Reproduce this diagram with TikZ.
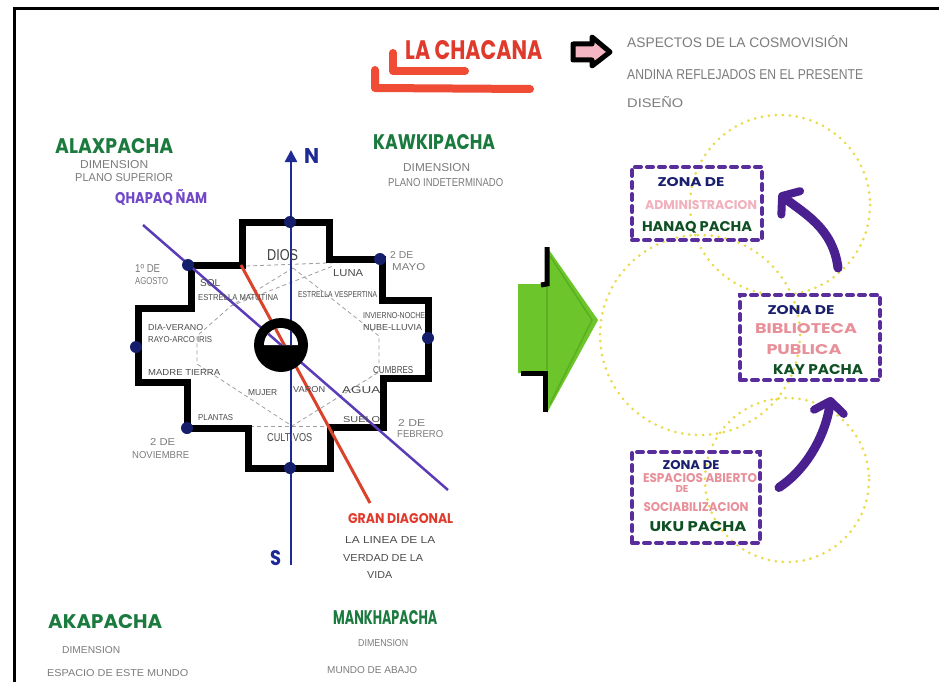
\documentclass[tikz,border=0pt]{standalone}
\usepackage{fontspec}
\usepackage{graphicx}
\usetikzlibrary{arrows.meta,calc}
\setmainfont{Liberation Sans}
\newfontfamily\marker{Poppins}
\newcommand{\fitt}[3]{\resizebox{#1bp}{#2bp}{#3}}
\definecolor{hgreen}{HTML}{1B7A3E}
\definecolor{boxgreen}{HTML}{0E4F24}
\definecolor{navyt}{HTML}{1A1F6E}
\definecolor{pinkt}{HTML}{E8909A}
\definecolor{pinkl}{HTML}{F2B0BD}
\definecolor{redt}{HTML}{E03A2C}
\definecolor{qpurple}{HTML}{7048C8}
\definecolor{axisblue}{HTML}{1E2A96}
\definecolor{diagpurple}{HTML}{5B3CB8}
\definecolor{diagred}{HTML}{D9432B}
\definecolor{grayt}{HTML}{7C7C7C}
\definecolor{boxpurple}{HTML}{5A2D9C}
\definecolor{arrowpurple}{HTML}{4A1F8F}
\definecolor{dotyellow}{HTML}{EADB4A}
\definecolor{arrgreen}{HTML}{6CC52A}
\definecolor{arrgreend}{HTML}{5AAE22}
\definecolor{pinkfill}{HTML}{F3B6C2}
\definecolor{dotnavy}{HTML}{141E6A}
\definecolor{underred}{HTML}{EF4B35}
\tikzset{
  lbl/.style={inner sep=0pt, anchor=west, text=grayt},
  lbld/.style={inner sep=0pt, anchor=west, text=black!70},
  hd/.style={inner sep=0pt, anchor=west, text=hgreen, font=\marker\bfseries},
  bx/.style={inner sep=0pt, font=\marker\bfseries},
  zbox/.style={draw=boxpurple, line width=4bp, dash pattern=on 6bp off 6bp, line cap=round, inner sep=0pt},
  ycirc/.style={dotyellow, line width=3bp, line cap=round, dash pattern=on 0bp off 7bp},
  parrow/.style={arrowpurple, line width=9bp, line cap=round, -{Straight Barb[length=11bp,width=30bp,line width=8bp,round]}},
  idash/.style={gray!75, line width=0.8bp, dash pattern=on 4bp off 3bp},
  bdot/.style={fill=dotnavy}
}
\begin{document}
\begin{tikzpicture}[x=1bp,y=-1bp]
\useasboundingbox (0,0) rectangle (939,682);
\fill[white] (0,0) rectangle (939,682);
% frame
\draw[line width=3bp] (14,682) -- (14,9) -- (939,9);

% title
\draw[underred, line width=8bp, line cap=round, line join=round] (393,53) -- (393,71) -- (465,71);
\draw[underred, line width=8bp, line cap=round, line join=round] (375,70) -- (375,88) -- (530,89);
\node[hd, text=redt] (title) at (405,50) {\fitt{137}{19}{LA CHACANA}};
\draw[line width=5bp, fill=pinkfill, line join=round] (573,44) -- (592,44) -- (592,37) -- (610,52) -- (592,66) -- (592,60) -- (573,60) -- cycle;
\node[lbl] (asp1) at (627,42) {\fitt{221}{12}{ASPECTOS DE LA COSMOVISIÓN}};
\node[lbl] (asp2) at (627,75) {\fitt{236}{10}{ANDINA REFLEJADOS EN EL PRESENTE}};
\node[lbl] (asp3) at (627,102) {\fitt{56}{11}{DISEÑO}};

% upper headings
\node[hd] (alax) at (55,146) {\fitt{118}{15}{ALAXPACHA}};
\node[lbl] (alax1) at (80,165) {\fitt{68}{8}{DIMENSION}};
\node[lbl] (alax2) at (75,178) {\fitt{98}{8}{PLANO SUPERIOR}};
\node[hd, text=qpurple] (qhapaq) at (115,197) {\fitt{92}{14}{QHAPAQ ÑAM}};
\node[hd] (kawk) at (373,142) {\fitt{122}{15}{KAWKIPACHA}};
\node[lbl] (kawk1) at (403,168) {\fitt{67}{8}{DIMENSION}};
\node[lbl] (kawk2) at (388,183) {\fitt{115}{8}{PLANO INDETERMINADO}};

% inner dashed lines
\draw[idash] (246,266) -- (382,261);
\draw[idash] (250,426) -- (383,426);
\draw[idash] (293,268) -- (379,336) -- (379,372) -- (292,426) -- (197,364) -- (197,336) -- (231,306) -- (333,266);
\draw[idash] (293,268) -- (231,306);

% chakana outline
\draw[line width=7bp, line join=miter] (242,222) -- (329,222) -- (329,259) -- (382,259) -- (382,300) -- (428,300) -- (428,378) -- (383,378) -- (383,427) -- (330,427) -- (330,468) -- (248,468) -- (248,428) -- (187,428) -- (187,382) -- (138,382) -- (138,308) -- (191,308) -- (191,265) -- (242,265) -- cycle;

% axis and diagonals
\draw[axisblue, line width=2.5bp, -{Triangle[length=12bp,width=12bp]}] (291,565) -- (291,150);
\draw[diagred, line width=3bp] (241,265) -- (370,503);
\draw[diagpurple, line width=2.5bp] (143,225) -- (448,490);

% central ring
\fill[black] (281,345) circle[radius=27];
\fill[white] (264,345) arc[start angle=180, end angle=360, radius=17] -- cycle;
\begin{scope}
\clip (264,345) arc[start angle=180, end angle=360, radius=17] -- cycle;
\draw[axisblue, line width=2.5bp] (291,565) -- (291,150);
\draw[diagred, line width=3bp] (241,265) -- (370,503);
\draw[diagpurple, line width=2.5bp] (143,225) -- (448,490);
\end{scope}

% dots
\fill[bdot] (290,222) circle[radius=6];
\fill[bdot] (380,259) circle[radius=6];
\fill[bdot] (428,338) circle[radius=6];
\fill[bdot] (290,468) circle[radius=6];
\fill[bdot] (187,428) circle[radius=6];
\fill[bdot] (136,347) circle[radius=6];
\fill[bdot] (188,265) circle[radius=6];

\node[inner sep=0pt, text=axisblue, font=\marker\bfseries, anchor=west] (north) at (304,156) {\fitt{15}{15}{N}};
\node[inner sep=0pt, text=axisblue, font=\marker\bfseries, anchor=west] (south) at (270,558) {\fitt{11}{15}{S}};

% outside dates
\node[lbl] (ago1) at (135,268) {\fitt{25}{8}{1º DE}};
\node[lbl] (ago2) at (135,281) {\fitt{33}{7}{AGOSTO}};
\node[lbl] (may1) at (390,255) {\fitt{23}{7}{2 DE}};
\node[lbl] (may2) at (392,267) {\fitt{33}{7}{MAYO}};
\node[lbl] (feb1) at (398,423) {\fitt{27}{7}{2 DE}};
\node[lbl] (feb2) at (397,434) {\fitt{46}{7}{FEBRERO}};
\node[lbl] (nov1) at (150,442) {\fitt{25}{7}{2 DE}};
\node[lbl] (nov2) at (132,455) {\fitt{57}{7}{NOVIEMBRE}};

% inner labels
\node[lbld, text=black!75] (dios) at (267,255) {\fitt{31}{11}{DIOS}};
\node[lbld] (luna) at (333,273) {\fitt{30}{7}{LUNA}};
\node[lbld] (sol) at (200,283) {\fitt{20}{7}{SOL}};
\node[lbld] (emat) at (198,298) {\fitt{80}{6}{ESTRELLA MATUTINA}};
\node[lbld] (eves) at (298,295) {\fitt{79}{6}{ESTRELLA VESPERTINA}};
\node[lbld] (inv) at (363,316) {\fitt{62}{6}{INVIERNO-NOCHE}};
\node[lbld] (nube) at (363,328) {\fitt{59}{6}{NUBE-LLUVIA}};
\node[lbld] (dia) at (148,328) {\fitt{55}{6}{DIA-VERANO}};
\node[lbld] (rayo) at (148,340) {\fitt{64}{6}{RAYO-ARCO IRIS}};
\node[lbld] (madre) at (148,372) {\fitt{72}{6}{MADRE TIERRA}};
\node[lbld] (cumb) at (373,370) {\fitt{40}{7}{CUMBRES}};
\node[lbld] (mujer) at (248,393) {\fitt{29}{6}{MUJER}};
\node[lbld] (varon) at (293,390) {\fitt{32}{6}{VARON}};
\node[lbld] (agua) at (342,390) {\fitt{38}{7}{AGUA}};
\node[lbld] (plant) at (198,418) {\fitt{35}{6}{PLANTAS}};
\node[lbld] (suelo) at (343,420) {\fitt{37}{6}{SUELO}};
\node[lbld] (cult) at (267,438) {\fitt{45}{8}{CULTIVOS}};

% gran diagonal
\node[hd, text=redt] (gran) at (348,519) {\fitt{105}{10}{GRAN DIAGONAL}};
\node[lbld] (gd1) at (345,540) {\fitt{90}{7}{LA LINEA DE LA}};
\node[lbld] (gd2) at (343,558) {\fitt{80}{7}{VERDAD DE LA}};
\node[lbld] (gd3) at (367,575) {\fitt{25}{7}{VIDA}};

% bottom headings
\node[hd] (aka) at (48,622) {\fitt{114}{14}{AKAPACHA}};
\node[lbl] (aka1) at (62,650) {\fitt{58}{7}{DIMENSION}};
\node[lbl] (aka2) at (47,673) {\fitt{141}{7}{ESPACIO DE ESTE MUNDO}};
\node[hd] (mank) at (333,618) {\fitt{104}{14}{MANKHAPACHA}};
\node[lbl] (mank1) at (358,643) {\fitt{50}{7}{DIMENSION}};
\node[lbl] (mank2) at (327,670) {\fitt{90}{7}{MUNDO DE ABAJO}};

% green arrow
\fill[arrgreen] (518,284) -- (547,284) -- (547,247) -- (598,320) -- (547,413) -- (547,373) -- (518,373) -- cycle;
\draw[arrgreend, line width=2bp] (547,287) -- (547,370);
\draw[arrgreend, line width=1.5bp] (550,256) -- (592,320) -- (550,404);
\draw[line width=5bp] (547,247) -- (547,284) -- (541,285);
\draw[line width=5bp] (521,373) -- (545,373) -- (545,412);

% yellow dotted circles
\draw[ycirc] (780,205) circle[radius=90];
\draw[ycirc] (700,335) circle[radius=100];
\draw[ycirc] (787,480) circle[radius=82];

% zone boxes
\node[zbox, minimum width=130bp, minimum height=73bp] (adm) at (697,203.5) {};
\node[zbox, minimum width=140bp, minimum height=85bp] (bib) at (810,337.5) {};
\node[zbox, minimum width=128bp, minimum height=91bp] (esp) at (696,497.5) {};

\node[bx, text=navyt] (adm1) at (691,182) {\fitt{67}{9}{ZONA DE}};
\node[bx, text=pinkl] (adm2) at (701,205) {\fitt{112}{9}{ADMINISTRACION}};
\node[bx, text=boxgreen] (adm3) at (697,227) {\fitt{110}{10}{HANAQ PACHA}};

\node[bx, text=navyt] (bib1) at (801,310) {\fitt{67}{9}{ZONA DE}};
\node[bx, text=pinkt] (bib2) at (806,329) {\fitt{102}{10}{BIBLIOTECA}};
\node[bx, text=pinkt] (bib3) at (804,350) {\fitt{75}{10}{PUBLICA}};
\node[bx, text=boxgreen] (bib4) at (818,370) {\fitt{90}{10}{KAY PACHA}};

\node[bx, text=navyt] (esp1) at (691,465) {\fitt{57}{9}{ZONA DE}};
\node[bx, text=pinkt] (esp2) at (700,478) {\fitt{114}{9}{ESPACIOS ABIERTO}};
\node[bx, text=pinkt] (esp3) at (682,489) {\fitt{13}{7}{DE}};
\node[bx, text=pinkt] (esp4) at (696,507) {\fitt{105}{9}{SOCIABILIZACION}};
\node[bx, text=boxgreen] (esp5) at (698,527) {\fitt{97}{10}{UKU PACHA}};

% purple arrows
\draw[parrow] ([xshift=28bp,yshift=25bp]bib.north) .. controls +(-5,-40) and +(25,20) .. ([xshift=15bp,yshift=10bp]adm.east);
\draw[parrow] ([xshift=17bp,yshift=10bp]esp.east) .. controls +(30,-20) and +(-5,35) .. ([xshift=21bp,yshift=-15bp]bib.south);
\end{tikzpicture}
\end{document}
